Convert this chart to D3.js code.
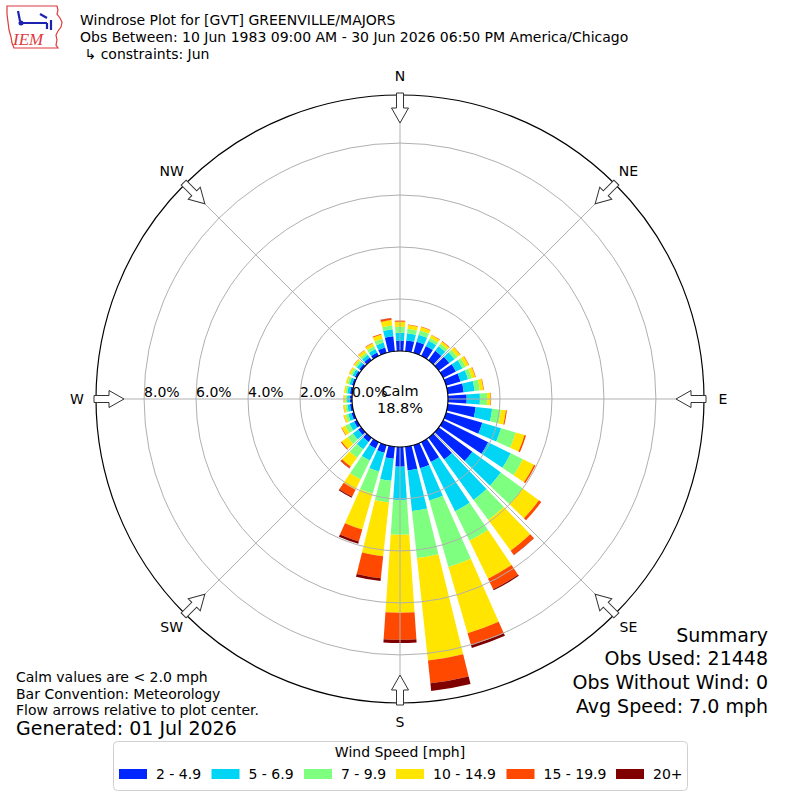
<!DOCTYPE html>
<html>
<head>
<meta charset="utf-8">
<script src="https://cdn.jsdelivr.net/npm/d3@7"></script>
<style>
  body { margin: 0; background: #fff; }
  text { font-family: "DejaVu Sans", sans-serif; fill: #000; }
</style>
</head>
<body>
<svg id="chart"></svg>
<script>
const width = 800;
const height = 800;
const cx = 400;
const cy = 399;

// Data (percent of observations), direction = where wind comes from
const directions = [0, 10, 20, 30, 40, 50, 60, 70, 80, 90, 100, 110, 120, 130, 140, 150, 160, 170,
                    180, 190, 200, 210, 220, 230, 240, 250, 260, 270, 280, 290, 300, 310, 320, 330, 340, 350];
const speedBins = ['2 - 4.9', '5 - 6.9', '7 - 9.9', '10 - 14.9', '15 - 19.9', '20+'];
const speed2to5 = [0.40, 0.42, 0.45, 0.42, 0.45, 0.50, 0.55, 0.58, 0.62, 0.72, 1.08, 1.45, 1.93, 1.60, 1.04, 0.85, 0.93, 0.92,
                   0.76, 0.47, 0.31, 0.27, 0.20, 0.15, 0.12, 0.10, 0.09, 0.09, 0.09, 0.08, 0.09, 0.10, 0.13, 0.15, 0.22, 0.58];
const speed5to7 = [0.30, 0.28, 0.28, 0.23, 0.22, 0.25, 0.28, 0.30, 0.42, 0.51, 0.64, 0.75, 0.97, 1.36, 1.92, 2.11, 1.29, 1.57,
                   1.28, 0.85, 0.75, 0.52, 0.35, 0.25, 0.20, 0.13, 0.10, 0.10, 0.10, 0.10, 0.10, 0.11, 0.13, 0.15, 0.20, 0.27];
const speed7to10 = [0.23, 0.17, 0.17, 0.12, 0.12, 0.14, 0.14, 0.15, 0.20, 0.28, 0.34, 0.59, 0.52, 1.04, 0.96, 1.27, 2.66, 1.82,
                    1.34, 0.84, 0.89, 0.81, 0.40, 0.25, 0.18, 0.10, 0.08, 0.07, 0.07, 0.08, 0.08, 0.08, 0.10, 0.12, 0.15, 0.15];
const speed10to15 = [0.20, 0.15, 0.14, 0.12, 0.10, 0.13, 0.13, 0.14, 0.14, 0.13, 0.19, 0.35, 0.48, 0.77, 1.46, 1.62, 2.65, 3.96,
                     3.00, 2.08, 1.43, 0.44, 0.42, 0.28, 0.15, 0.08, 0.07, 0.06, 0.06, 0.07, 0.07, 0.07, 0.11, 0.12, 0.17, 0.21];
const speed15to20 = [0.04, 0.02, 0.02, 0.02, 0.02, 0.02, 0.02, 0.02, 0.02, 0.02, 0.04, 0.06, 0.06, 0.11, 0.20, 0.45, 0.47, 0.88,
                     1.04, 0.85, 0.48, 0.30, 0.08, 0.04, 0.02, 0.01, 0.01, 0.01, 0.00, 0.00, 0.01, 0.01, 0.02, 0.02, 0.03, 0.07];
const speed20plus = [0, 0, 0, 0, 0, 0, 0, 0, 0, 0, 0, 0, 0, 0, 0.01, 0.05, 0.12, 0.30,
                     0.12, 0.11, 0.09, 0.04, 0.01, 0, 0, 0, 0, 0, 0, 0, 0, 0, 0, 0, 0, 0.01];
const ringTicks = [0, 2, 4, 6, 8];
const compassLabels = ['N', 'NE', 'E', 'SE', 'S', 'SW', 'W', 'NW'];
const calmPct = 18.8;
const summaryLines = ['Summary', 'Obs Used: 21448', 'Obs Without Wind: 0', 'Avg Speed: 7.0 mph'];
const noteLines = ['Calm values are < 2.0 mph', 'Bar Convention: Meteorology', 'Flow arrows relative to plot center.'];

const colors = ['#0026ff', '#00d5f5', '#7fff7f', '#ffe500', '#ff4800', '#800000'];
const series = [speed2to5, speed5to7, speed7to10, speed10to15, speed15to20, speed20plus];

const svg = d3.select('#chart')
    .attr('width', width)
    .attr('height', height);

// Scales
const rScale = d3.scaleLinear()
    .domain([0, 9.85])
    .range([48, 304]);

const angle = d => d * Math.PI / 180;
const barWidth = 7.8;

// Stack the bins for each direction
const stacked = d3.stack()
    .keys(d3.range(series.length))
    .value((d, k) => series[k][d])(d3.range(directions.length));

const plot = svg.append('g').attr('transform', `translate(${cx},${cy})`);

const arc = d3.arc();

stacked.forEach((layer, k) => {
    plot.append('g')
        .selectAll('path')
        .data(layer)
        .join('path')
        .attr('d', (d, i) => arc({
            innerRadius: rScale(d[0]),
            outerRadius: rScale(d[1]),
            startAngle: angle(directions[i] - barWidth / 2),
            endAngle: angle(directions[i] + barWidth / 2)
        }))
        .attr('fill', colors[k]);
});

// Grid on top of bars
plot.append('g')
    .selectAll('circle')
    .data(ringTicks.slice(1))
    .join('circle')
    .attr('r', d => rScale(d))
    .attr('fill', 'none')
    .attr('stroke', '#b0b0b0')
    .attr('stroke-width', 1);

plot.append('g')
    .selectAll('line')
    .data(d3.range(8))
    .join('line')
    .attr('x1', i => rScale(0) * Math.sin(angle(i * 45)))
    .attr('y1', i => -rScale(0) * Math.cos(angle(i * 45)))
    .attr('x2', i => rScale.range()[1] * Math.sin(angle(i * 45)))
    .attr('y2', i => -rScale.range()[1] * Math.cos(angle(i * 45)))
    .attr('stroke', '#b0b0b0')
    .attr('stroke-width', 1);

// Calm circle
plot.append('circle')
    .attr('r', rScale(0))
    .attr('fill', '#fff')
    .attr('stroke', '#000')
    .attr('stroke-width', 1.2);

plot.append('text')
    .attr('x', 0).attr('y', -3)
    .attr('text-anchor', 'middle')
    .attr('font-size', 14.5)
    .text('Calm');

plot.append('text')
    .attr('x', 0).attr('y', 14)
    .attr('text-anchor', 'middle')
    .attr('font-size', 14.5)
    .text(`${calmPct.toFixed(1)}%`);

// Ring labels along W axis
plot.append('g')
    .selectAll('text')
    .data(ringTicks)
    .join('text')
    .attr('x', d => -rScale(d))
    .attr('y', -2)
    .attr('font-size', 14)
    .text(d => `${d.toFixed(1)}%`);

// Outer circle
plot.append('circle')
    .attr('r', rScale.range()[1])
    .attr('fill', 'none')
    .attr('stroke', '#000')
    .attr('stroke-width', 1.2);

// Flow arrows
const R = rScale.range()[1];
const arrowPts = [[-3.5, -(R + 2)], [3.5, -(R + 2)], [3.5, -(R - 13)], [8.5, -(R - 13)],
                  [0, -(R - 28)], [-8.5, -(R - 13)], [-3.5, -(R - 13)]];

plot.append('g')
    .selectAll('polygon')
    .data(d3.range(8))
    .join('polygon')
    .attr('points', arrowPts.map(p => p.join(',')).join(' '))
    .attr('transform', i => `rotate(${i * 45})`)
    .attr('fill', '#fff')
    .attr('stroke', '#333')
    .attr('stroke-width', 1);

plot.append('g')
    .selectAll('text')
    .data(compassLabels)
    .join('text')
    .attr('x', (d, i) => 323 * Math.sin(angle(i * 45)))
    .attr('y', (d, i) => -323 * Math.cos(angle(i * 45)))
    .attr('dy', '0.35em')
    .attr('text-anchor', 'middle')
    .attr('font-size', 14)
    .text(d => d);

// Title
const titles = ['Windrose Plot for [GVT] GREENVILLE/MAJORS',
                'Obs Between: 10 Jun 1983 09:00 AM - 30 Jun 2026 06:50 PM America/Chicago',
                ' \u21b3 constraints: Jun'];

svg.append('g')
    .selectAll('text')
    .data(titles)
    .join('text')
    .attr('x', 80)
    .attr('y', (d, i) => 25 + i * 17)
    .attr('font-size', 14)
    .style('white-space', 'pre')
    .text(d => d);

// Logo (rough IEM mark)
const logo = svg.append('g');
logo.append('path')
    .attr('d', 'M7,6 L57,6 L58,10 L57,14 L60,18 L62,22 L61,27 L58,31 L56,35 L57,40 L56,45 L58,48 L14,48 L12,43 L11,37 L9,30 L8,22 L7,14 Z')
    .attr('fill', 'none')
    .attr('stroke', '#e0393e')
    .attr('stroke-width', 1.2);
logo.append('path')
    .attr('d', 'M21,23 L47,23 M47,23 L47,29 M18,11 L20,21 M40,14 L47,18 M51,20 L51,30')
    .attr('fill', 'none')
    .attr('stroke', '#1e22b0')
    .attr('stroke-width', 2.2);
logo.append('circle')
    .attr('cx', 21).attr('cy', 23).attr('r', 2.5)
    .attr('fill', '#1e22b0');
logo.append('text')
    .attr('x', 13).attr('y', 45)
    .attr('font-size', 17)
    .attr('font-style', 'italic')
    .style('font-family', '"Liberation Serif", serif')
    .style('fill', '#e0393e')
    .text('IEM');

// Notes
svg.append('g')
    .selectAll('text')
    .data(noteLines)
    .join('text')
    .attr('x', 16)
    .attr('y', (d, i) => 682 + i * 16.5)
    .attr('font-size', 14)
    .text(d => d);

svg.append('text')
    .attr('x', 16).attr('y', 735)
    .attr('font-size', 19)
    .text('Generated: 01 Jul 2026');

// Summary
svg.append('g')
    .selectAll('text')
    .data(summaryLines)
    .join('text')
    .attr('x', 768)
    .attr('y', (d, i) => 635 + i * 23.7)
    .attr('dy', '0.35em')
    .attr('text-anchor', 'end')
    .attr('font-size', 19)
    .text(d => d);

// Legend
const legend = svg.append('g');
legend.append('rect')
    .attr('x', 113.5).attr('y', 741.5)
    .attr('width', 574).attr('height', 49)
    .attr('rx', 4)
    .attr('fill', '#fff')
    .attr('stroke', '#d0d0d0');

legend.append('text')
    .attr('x', 400).attr('y', 757)
    .attr('text-anchor', 'middle')
    .attr('font-size', 14)
    .text('Wind Speed [mph]');

const legendX = [119, 211.5, 304, 396, 506.5, 616];

const entries = legend.selectAll('g.entry')
    .data(speedBins)
    .join('g')
    .attr('class', 'entry')
    .attr('transform', (d, i) => `translate(${legendX[i]},769)`);

entries.append('rect')
    .attr('width', 28).attr('height', 10)
    .attr('fill', (d, i) => colors[i]);

entries.append('text')
    .attr('x', 37).attr('y', 10)
    .attr('font-size', 14)
    .text(d => d);
</script>
</body>
</html>
